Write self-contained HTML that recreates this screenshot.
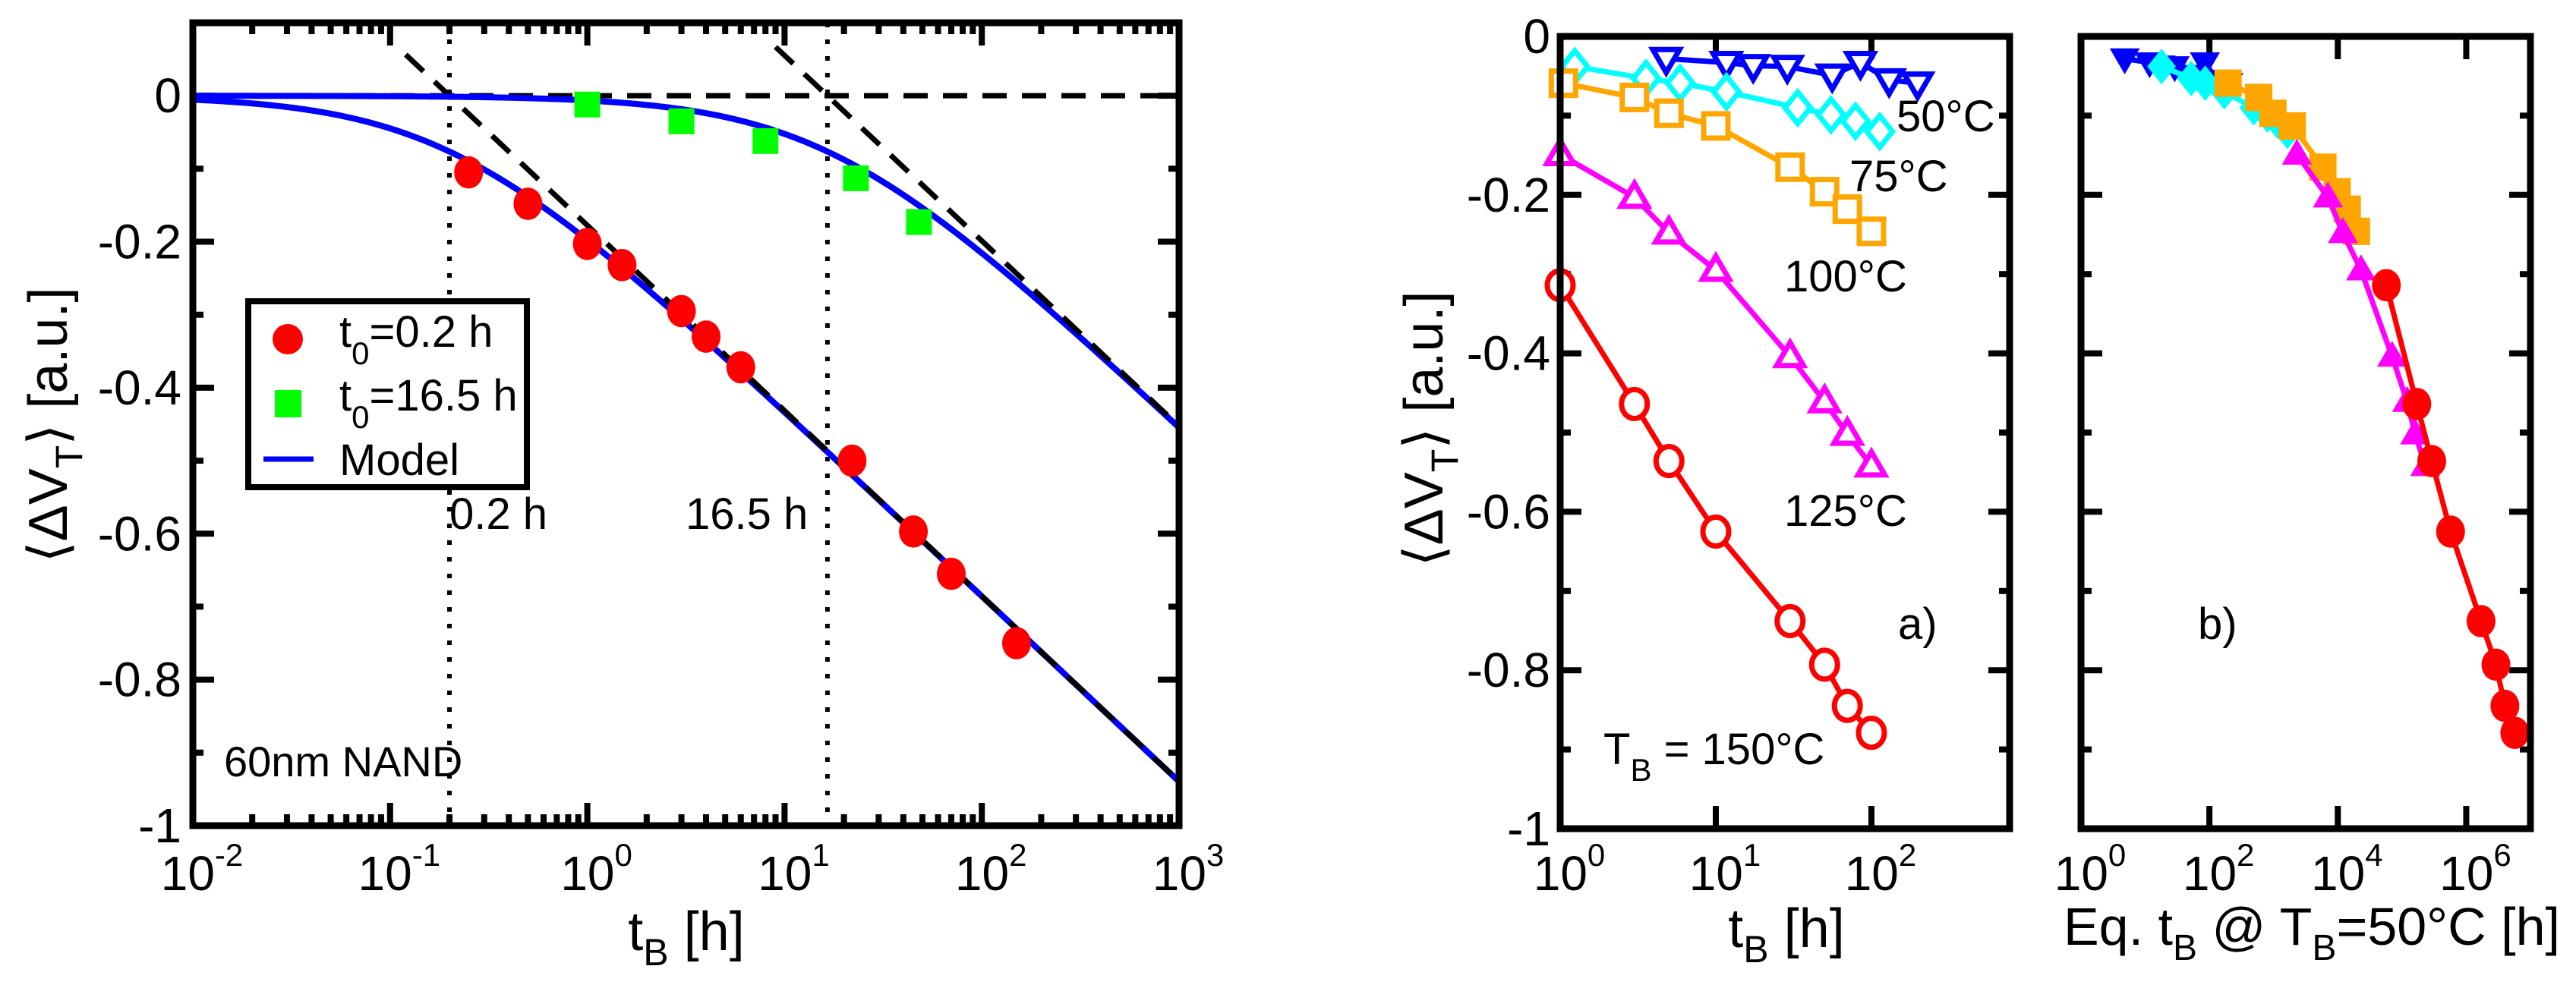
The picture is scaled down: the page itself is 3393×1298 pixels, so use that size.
<!DOCTYPE html>
<html><head><meta charset="utf-8"><style>
html,body{margin:0;padding:0;background:#fff;}
svg{display:block;font-family:"Liberation Sans",Arial,sans-serif;}
</style></head><body>
<svg id="fig" xmlns="http://www.w3.org/2000/svg" width="3393" height="1298" viewBox="0 0 3393 1298">
<rect width="3393" height="1298" fill="#fff"/>
<g id="p1"></g>
<g id="pa"></g>
<g id="pb"></g>
</svg>
<script>
// ---------- Panel 1 data ----------
const redT = [0.25,0.5,1,1.5,3,4,6,22,45,70,150];
const redV = [-0.105,-0.148,-0.203,-0.232,-0.295,-0.33,-0.372,-0.5,-0.597,-0.655,-0.75];
const greenT = [1,3,8,23,48];
const greenV = [-0.012,-0.035,-0.062,-0.113,-0.173];
const modelT0 = [0.2,16.5];
const modelSlope = [0.254,0.254];
const asymStart = [0.12,9];
const p1XTicks = ["-2","-1","0","1","2","3"];
const p1YTicks = [0,-0.2,-0.4,-0.6,-0.8,-1];
const p1YTickLabels = ["0","-0.2","-0.4","-0.6","-0.8","-1"];
// ---------- Panel a data ----------
const t150 = [1,3,5,10,30,50,70,100];
const v150 = [-0.314,-0.464,-0.536,-0.625,-0.738,-0.793,-0.845,-0.879];
const t125 = [1,3,5,10,30,50,70,100];
const v125 = [-0.149,-0.203,-0.248,-0.295,-0.404,-0.461,-0.502,-0.542];
const t100 = [1.05,3,5,10,30,50,70,100];
const v100 = [-0.059,-0.077,-0.097,-0.113,-0.165,-0.196,-0.218,-0.246];
const t75 = [1.24,3.56,5.9,11.7,33.6,55,79,113];
const v75 = [-0.038,-0.053,-0.059,-0.070,-0.090,-0.099,-0.107,-0.120];
const t50 = [4.8,11.7,17.4,28.8,56,85,130,198];
const v50 = [-0.028,-0.033,-0.037,-0.038,-0.049,-0.033,-0.055,-0.059];
const paXTicks = ["0","1","2"];
const paYTickLabels = ["0","-0.2","-0.4","-0.6","-0.8","-1"];
// ---------- Panel b data (equivalent times) ----------
const e150 = [5.7e4,1.7e5,2.9e5,5.7e5,1.7e6,2.9e6,4.0e6,5.7e6];
const e125 = [2.3e3,7e3,1.2e4,2.3e4,7e4,1.2e5,1.6e5,2.3e5];
const e100 = [195,585,975,1950,5850,9750,1.4e4,1.95e4];
const e75 = [18,52,86,171,490,800,1150,1650];
const e50 = [4.8,11.7,17.4,28.8,56,85,130,198];
const pbXTicks = ["0","2","4","6"];

const NS="http://www.w3.org/2000/svg";
function mk(parent,tag,attrs){const e=document.createElementNS(NS,tag);for(const k in attrs)e.setAttribute(k,attrs[k]);parent.appendChild(e);return e;}
function txt(parent,x,y,s,size,anchor){const e=mk(parent,'text',{x:x,y:y,'font-size':size,'text-anchor':anchor||'start'});e.textContent=s;return e;}
function axes(L,R,T,B,lx0,lx1,y0,y1){
  return {x:t=>L+(Math.log10(t)-lx0)/(lx1-lx0)*(R-L), y:v=>T+(y0-v)/(y0-y1)*(B-T)};
}
function decadeLabel(g,x,y,exp,name){
  const t=mk(g,'text',{x:x,y:y,'font-size':64,'text-anchor':'middle'});
  
  
  const a=document.createElementNS(NS,'tspan');a.textContent='10';t.appendChild(a);
  const b=document.createElementNS(NS,'tspan');b.setAttribute('dy','-32');b.setAttribute('font-size','42');b.textContent=exp;t.appendChild(b);
}
function polyline(g,sx,sy,ts,vs,color,w,name){
  const p=mk(g,'polyline',{points:ts.map((t,i)=>sx(t)+','+sy(vs[i])).join(' '),fill:'none',stroke:color,'stroke-width':w,'stroke-linejoin':'round'});
  
  
}
function marker(g,type,x,y,color,filled,s,name){
  let e;const f=filled?color:'#fff';
  if(type==='circle') e=mk(g,'ellipse',{cx:x,cy:y,rx:s,ry:s*1.12,fill:f,stroke:color,'stroke-width':filled?0:7});
  else if(type==='square') e=mk(g,'rect',{x:x-s,y:y-s,width:2*s,height:2*s,fill:f,stroke:color,'stroke-width':filled?0:7});
  else if(type==='up') e=mk(g,'polygon',{points:`${x},${y-s*1.15} ${x-s*1.1},${y+s*0.75} ${x+s*1.1},${y+s*0.75}`,fill:f,stroke:color,'stroke-width':filled?0:7});
  else if(type==='down') e=mk(g,'polygon',{points:`${x},${y+s*1.15} ${x-s*1.1},${y-s*0.75} ${x+s*1.1},${y-s*0.75}`,fill:f,stroke:color,'stroke-width':filled?0:7});
  else e=mk(g,'polygon',{points:`${x},${y-s*1.3} ${x+s*1.05},${y} ${x},${y+s*1.3} ${x-s*1.05},${y}`,fill:f,stroke:color,'stroke-width':filled?0:7});
  
  
}

// ================= Panel 1 =================
(function(){
  const g=document.getElementById('p1');
  const L=254,R=1553,T=30,B=1088;
  const A=axes(L,R,T,B,-2,3,0.1,-1);
  for(let d=-2;d<3;d++){for(let m=2;m<=9;m++){const x=A.x(m*Math.pow(10,d));
    mk(g,'line',{x1:x,y1:B,x2:x,y2:B-15,stroke:'#000','stroke-width':8});
    mk(g,'line',{x1:x,y1:T,x2:x,y2:T+15,stroke:'#000','stroke-width':8});}}
  p1XTicks.forEach(e=>{const x=A.x(Math.pow(10,+e));
    mk(g,'line',{x1:x,y1:B,x2:x,y2:B-30,stroke:'#000','stroke-width':8});
    mk(g,'line',{x1:x,y1:T,x2:x,y2:T+30,stroke:'#000','stroke-width':8});
    decadeLabel(g,x+12,1173,e,'x-tick-label');});
  for(let v=0;v>=-0.95;v-=0.2){const y=A.y(v-0.1);
    mk(g,'line',{x1:L,y1:y,x2:L+14,y2:y,stroke:'#000','stroke-width':8});
    mk(g,'line',{x1:R,y1:y,x2:R-14,y2:y,stroke:'#000','stroke-width':8});}
  p1YTicks.forEach((v,i)=>{const y=A.y(v);
    mk(g,'line',{x1:L,y1:y,x2:L+28,y2:y,stroke:'#000','stroke-width':8});
    mk(g,'line',{x1:R,y1:y,x2:R-28,y2:y,stroke:'#000','stroke-width':8});
    const t=txt(g,239,y+22,p1YTickLabels[i],64,'end');
    
    });
  const z=mk(g,'line',{x1:L,y1:A.y(0),x2:R,y2:A.y(0),stroke:'#000','stroke-width':7,'stroke-dasharray':'32,20'});
  
  
  modelT0.forEach(t0=>{const x=A.x(t0);
    const l=mk(g,'line',{x1:x,y1:T,x2:x,y2:B,stroke:'#000','stroke-width':6,'stroke-dasharray':'6,16'});
    
    });
  modelT0.forEach((t0,k)=>{const pts=[];
    for(let i=0;i<=300;i++){const lt=-2+5*i/300,t=Math.pow(10,lt);pts.push(A.x(t)+','+A.y(-modelSlope[k]*Math.log10(1+t/t0)));}
    const p=mk(g,'polyline',{points:pts.join(' '),fill:'none',stroke:'#0000ff','stroke-width':8});
    
    
    const ts=asymStart[k];
    const d=mk(g,'line',{x1:A.x(ts),y1:A.y(-modelSlope[k]*Math.log10(ts/t0)),x2:A.x(1000),y2:A.y(-modelSlope[k]*Math.log10(1000/t0)),stroke:'#000','stroke-width':7,'stroke-dasharray':'32,20'});
    
    });
  redT.forEach((t,i)=>marker(g,'circle',A.x(t),A.y(redV[i]),'#ff0000',true,19,'red-point'));
  greenT.forEach((t,i)=>marker(g,'square',A.x(t),A.y(greenV[i]),'#00ff00',true,17,'green-point'));
  mk(g,'rect',{x:L,y:T,width:R-L,height:B-T,fill:'none',stroke:'#000','stroke-width':9});
  // legend
  const lg=mk(g,'g',{transform:'translate(0,58)'});
  
  
  mk(lg,'rect',{x:327,y:339,width:367,height:245,fill:'#fff',stroke:'#000','stroke-width':8});
  mk(lg,'ellipse',{cx:379,cy:389,rx:20,ry:20,fill:'#ff0000'});
  mk(lg,'rect',{x:362,y:456,width:35,height:36,fill:'#00ff00'});
  mk(lg,'line',{x1:347,y1:547,x2:413,y2:547,stroke:'#0000ff','stroke-width':7});
  [['0.2 h',399],['16.5 h',483]].forEach(r=>{const t=mk(lg,'text',{x:447,y:r[1],'font-size':58});
    const a=document.createElementNS(NS,'tspan');a.textContent='t';t.appendChild(a);
    const b=document.createElementNS(NS,'tspan');b.setAttribute('dy','23');b.setAttribute('font-size','42');b.textContent='0';t.appendChild(b);
    const c=document.createElementNS(NS,'tspan');c.setAttribute('dy','-23');c.textContent='='+r[0];t.appendChild(c);});
  txt(lg,447,568,'Model',58);
  let t;
  t=txt(g,592,697,'0.2 h',58);
  t=txt(g,903,697,'16.5 h',58);
  t=txt(g,295,1023,'60nm NAND',56);
  t=mk(g,'text',{x:904,y:1252,'font-size':72,'text-anchor':'middle'});
  
  t.innerHTML='t<tspan dy="20" font-size="50">B</tspan><tspan dy="-20"> [h]</tspan>';
  t=mk(g,'text',{x:0,y:0,'font-size':72,'text-anchor':'middle',transform:'translate(88,560) rotate(-90)'});
  
  t.innerHTML='⟨ΔV<tspan dy="20" font-size="50">T</tspan><tspan dy="-20">⟩ [a.u.]</tspan>';
})();

// ================= Panel a =================
(function(){
  const g=document.getElementById('pa');
  const L=2055,R=2647,T=48,B=1092;
  const A=axes(L,R,T,B,0,2.888,0,-1);
  paXTicks.forEach(e=>{const x=A.x(Math.pow(10,+e));
    mk(g,'line',{x1:x,y1:B,x2:x,y2:B-30,stroke:'#000','stroke-width':8});
    mk(g,'line',{x1:x,y1:T,x2:x,y2:T+30,stroke:'#000','stroke-width':8});
    decadeLabel(g,x+12,1173,e,'x-tick-label');});
  for(let i=0;i<=10;i++){const v=-i/10,y=A.y(v),len=(i%2===0)?28:14;
    mk(g,'line',{x1:L,y1:y,x2:L+len,y2:y,stroke:'#000','stroke-width':8});
    mk(g,'line',{x1:R,y1:y,x2:R-len,y2:y,stroke:'#000','stroke-width':8});}
  paYTickLabels.forEach((s,i)=>{const t=txt(g,2042,A.y(-0.2*i)+22,s,64,'end');
    });
  const S=[[t50,v50,'#0000ff','down'],[t75,v75,'#00ffff','diamond'],[t100,v100,'#ffa500','square'],[t125,v125,'#ff00ff','up'],[t150,v150,'#ff0000','circle']];
  S.forEach(s=>{polyline(g,A.x,A.y,s[0],s[1],s[2],7,'series-line');
    s[0].forEach((t,i)=>marker(g,s[3],A.x(t),A.y(s[1][i]),s[2],false,s[3]==='circle'?17:16,'open-marker'));});
  mk(g,'rect',{x:L,y:T,width:R-L,height:B-T,fill:'none',stroke:'#000','stroke-width':9});
  const lab=[['50°C',2498,173],['75°C',2436,252],['100°C',2350,384],['125°C',2350,693],['a)',2500,842]];
  lab.forEach(l=>{const t=txt(g,l[1],l[2],l[0],58);});
  let t=mk(g,'text',{x:2112,y:1007,'font-size':58});
  
  t.innerHTML='T<tspan dy="22" font-size="42">B</tspan><tspan dy="-22"> = 150°C</tspan>';
  t=mk(g,'text',{x:2353,y:1248,'font-size':72,'text-anchor':'middle'});
  
  t.innerHTML='t<tspan dy="20" font-size="50">B</tspan><tspan dy="-20"> [h]</tspan>';
  t=mk(g,'text',{x:0,y:0,'font-size':72,'text-anchor':'middle',transform:'translate(1900,565) rotate(-90)'});
  
  t.innerHTML='⟨ΔV<tspan dy="20" font-size="50">T</tspan><tspan dy="-20">⟩ [a.u.]</tspan>';
})();

// ================= Panel b =================
(function(){
  const g=document.getElementById('pb');
  const L=2741,R=3333,T=48,B=1092;
  const A=axes(L,R,T,B,0,7,0,-1);
  pbXTicks.forEach(e=>{const x=A.x(Math.pow(10,+e));
    mk(g,'line',{x1:x,y1:B,x2:x,y2:B-30,stroke:'#000','stroke-width':8});
    mk(g,'line',{x1:x,y1:T,x2:x,y2:T+30,stroke:'#000','stroke-width':8});
    decadeLabel(g,x+12,1173,e,'x-tick-label');});
  for(let i=0;i<=10;i++){const v=-i/10,y=A.y(v),len=(i%2===0)?28:14;
    mk(g,'line',{x1:L,y1:y,x2:L+len,y2:y,stroke:'#000','stroke-width':8});
    mk(g,'line',{x1:R,y1:y,x2:R-len,y2:y,stroke:'#000','stroke-width':8});}
  const S=[[e50,v50,'#0000ff','down'],[e75,v75,'#00ffff','diamond'],[e100,v100,'#ffa500','square'],[e125,v125,'#ff00ff','up'],[e150,v150,'#ff0000','circle']];
  S.forEach(s=>{polyline(g,A.x,A.y,s[0],s[1],s[2],7,'series-line');
    s[0].forEach((t,i)=>marker(g,s[3],A.x(t),A.y(s[1][i]),s[2],true,s[3]==='circle'?19:18,'filled-marker'));});
  mk(g,'rect',{x:L,y:T,width:R-L,height:B-T,fill:'none',stroke:'#000','stroke-width':9});
  let t=txt(g,2895,842,'b)',58);
  t=mk(g,'text',{x:3045,y:1245,'font-size':70,'text-anchor':'middle'});
  
  t.innerHTML='Eq. t<tspan dy="20" font-size="48">B</tspan><tspan dy="-20"> @ T</tspan><tspan dy="20" font-size="48">B</tspan><tspan dy="-20">=50°C [h]</tspan>';
})();
</script>
</body></html>
